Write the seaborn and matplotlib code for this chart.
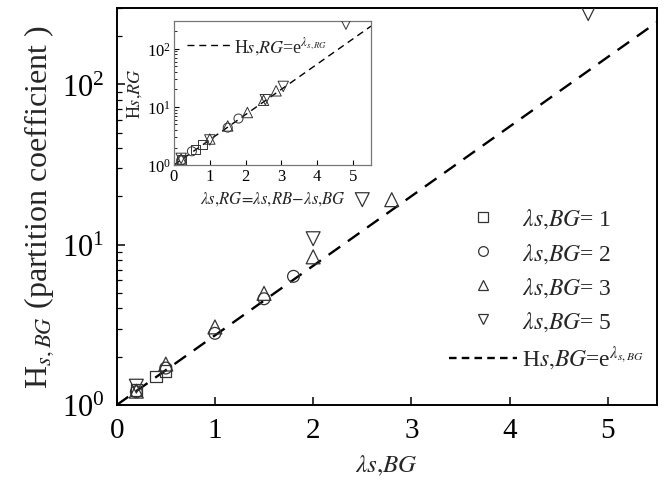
import numpy as np
import matplotlib
matplotlib.use("Agg")
import matplotlib.pyplot as plt
import seaborn as sns
from matplotlib.lines import Line2D
from matplotlib.ticker import LogLocator, NullFormatter

# ---- main panel data: H_s,BG versus lambda_s,BG ----
sq_x = [0.2, 0.4, 0.5]
sq_y = [1.24, 1.50, 1.63]
ci_x = [0.2, 0.5, 1.0, 1.5, 1.8]
ci_y = [1.21, 1.70, 2.80, 4.60, 6.35]
up_x = [0.2, 0.5, 1.0, 1.5, 2.0, 2.8]
up_y = [1.22, 1.80, 3.07, 4.97, 8.4, 19.1]
dn_x = [0.2, 2.0, 2.5, 4.8]
dn_y = [1.31, 10.9, 19.1, 277]

# ---- inset data: H_s,RG versus lambda_s,RG ----
isq_x = [0.2, 0.6, 0.8]
isq_y = [1.22, 1.85, 2.25]
ici_x = [0.2, 0.5, 1.5, 1.8]
ici_y = [1.20, 1.72, 4.4, 6.3]
iup_x = [0.2, 1.0, 1.5, 2.05, 2.5, 2.85]
iup_y = [1.27, 2.8, 4.7, 8.0, 13.0, 18.9]
idn_x = [0.2, 1.0, 2.55, 3.05, 4.8]
idn_y = [1.30, 2.7, 13.3, 22.5, 265]

series_labels = [r"$\lambda s{,}BG$= 1", r"$\lambda s{,}BG$= 2",
                 r"$\lambda s{,}BG$= 3", r"$\lambda s{,}BG$= 5"]
markers = ["s", "o", "^", "v"]
x_ticks = [0, 1, 2, 3, 4, 5]

sns.set_theme(style="ticks")
plt.rcParams["font.family"] = ["Liberation Serif", "DejaVu Serif"]
plt.rcParams["mathtext.fontset"] = "stix"

fig = plt.figure(figsize=(6.71, 4.85), dpi=100)
ax = fig.add_axes([0.1739, 0.1629, 0.8052, 0.8186])

edge = "#333333"
main_sets = [(sq_x, sq_y, 8), (ci_x, ci_y, 8.5), (up_x, up_y, 10), (dn_x, dn_y, 10)]
for (x, y, ms), m in zip(main_sets, markers):
    sns.scatterplot(x=x, y=y, marker=m, s=ms ** 2, facecolor="none",
                    edgecolor=edge, linewidth=0.9, ax=ax, zorder=3)

lam = np.linspace(0, 5.5, 200)
sns.lineplot(x=lam, y=np.exp(lam), color="black", lw=1.7, ax=ax,
             dashes=False, zorder=2).lines[-1].set_dashes((6, 4))

ax.set_yscale("log")
ax.set_xlim(0, 5.5)
ax.set_ylim(1, 300)
ax.set_xticks(x_ticks)
ax.set_xticklabels([str(t) for t in x_ticks])
ax.yaxis.set_major_locator(LogLocator(base=10, numticks=5))
ax.yaxis.set_minor_locator(LogLocator(base=10, subs=np.arange(2, 10), numticks=20))
ax.yaxis.set_minor_formatter(NullFormatter())
ax.tick_params(which="both", direction="in", top=False, right=False,
               colors="black")
ax.tick_params(axis="x", which="major", labelsize=21, pad=9)
ax.tick_params(axis="y", which="major", labelsize=22, pad=9)
ax.tick_params(which="major", length=6, width=1.1)
ax.tick_params(which="minor", length=3.5, width=0.9)
for sp in ax.spines.values():
    sp.set_linewidth(1.4)
    sp.set_color("black")
    sp.set_visible(True)

ax.set_xlabel(r"$\lambda s{,}BG$", fontsize=18, labelpad=7)
ax.set_ylabel(r"H$_{s,BG}$ (partition coefficient )", fontsize=23, labelpad=4)

handles = [Line2D([], [], ls="none", marker=m, ms=7, mfc="none", mec=edge, mew=0.9)
           for m in markers]
handles.append(Line2D([], [], color="black", lw=1.7, dashes=(3.2, 2.2)))
labels = series_labels + [r"H$s{,}BG$=e$^{\lambda_{s,BG}}$"]
ax.legend(handles, labels, loc="lower left", bbox_to_anchor=(0.615, 0.085),
          frameon=False, fontsize=17, handlelength=2.9, handletextpad=0.2,
          labelspacing=0.45, borderpad=0, borderaxespad=0)

# ---- inset ----
ins = fig.add_axes([0.2593, 0.6577, 0.2936, 0.2969])
in_sets = [(isq_x, isq_y, 6.5), (ici_x, ici_y, 6.5), (iup_x, iup_y, 7.5), (idn_x, idn_y, 7.5)]
for (x, y, ms), m in zip(in_sets, markers):
    sns.scatterplot(x=x, y=y, marker=m, s=ms ** 2, facecolor="none",
                    edgecolor=edge, linewidth=0.7, ax=ins, zorder=3)
sns.lineplot(x=lam, y=np.exp(lam), color="black", lw=1.0, ax=ins,
             dashes=False, zorder=2).lines[-1].set_dashes((5, 3.5))
ins.set_yscale("log")
ins.set_xlim(0, 5.5)
ins.set_ylim(1, 300)
ins.set_xticks(x_ticks)
ins.set_xticklabels([str(t) for t in x_ticks])
ins.yaxis.set_major_locator(LogLocator(base=10, numticks=5))
ins.yaxis.set_minor_locator(LogLocator(base=10, subs=np.arange(2, 10), numticks=20))
ins.yaxis.set_minor_formatter(NullFormatter())
ins.tick_params(which="both", direction="in", top=False, right=False, labelsize=12,
                colors="black", pad=2)
ins.tick_params(which="major", length=3.5, width=0.8)
ins.tick_params(which="minor", length=2, width=0.6)
for sp in ins.spines.values():
    sp.set_linewidth(0.9)
    sp.set_color("#777777")
    sp.set_visible(True)
ins.set_xlabel(r"$\lambda s{,}RG\!=\!\lambda s{,}RB\!-\!\lambda s{,}BG$", fontsize=12, labelpad=4)
ins.set_ylabel(r"H$s{,}RG$", fontsize=13, labelpad=2)
ins.legend([Line2D([], [], color="black", lw=1.0, dashes=(5, 3.5))],
           [r"H$s{,}RG$=e$^{\lambda_{s,RG}}$"], loc="upper left",
           bbox_to_anchor=(0.05, 0.93), frameon=False, fontsize=13,
           handlelength=2.4, handletextpad=0.2, borderpad=0.2, borderaxespad=0)

fig.savefig("out.png", dpi=100)
